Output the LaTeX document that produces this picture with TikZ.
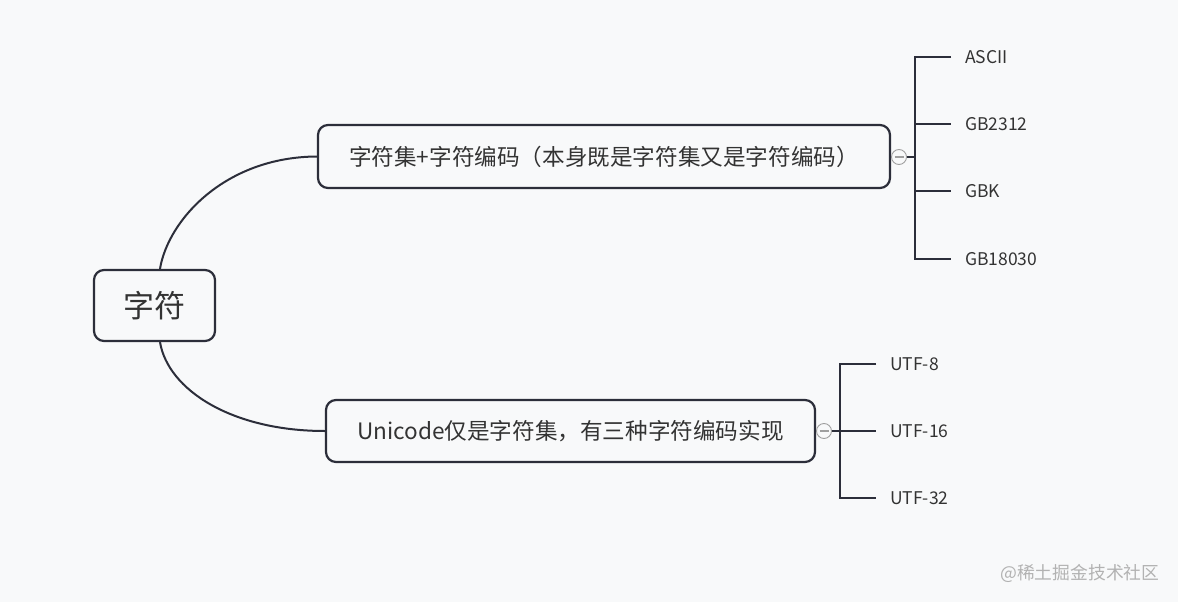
\documentclass[tikz,border=0pt]{standalone}
\usepackage{fontspec}
\setmainfont{Noto Sans CJK SC}
\definecolor{bg}{RGB}{248,249,250}
\definecolor{linec}{RGB}{44,46,58}
\definecolor{txt}{RGB}{51,51,51}
\definecolor{wm}{RGB}{178,178,178}
\begin{document}
\begin{tikzpicture}[x=1pt,y=-1pt,
  box/.style={draw=linec, line width=2.2pt, rounded corners=10pt, fill=bg, inner sep=0pt, text=txt},
  conn/.style={draw=linec, line width=2pt},
  brk/.style={draw=linec, line width=2.6pt},
  leaf/.style={anchor=west, text=txt, font=\fontsize{17.5pt}{20pt}\selectfont, inner sep=0pt},
  toggle/.style={circle, draw=gray!75, line width=0.9pt, fill=bg, minimum size=15pt, inner sep=0pt,
    path picture={\draw[gray!75, line width=1.2pt] ([xshift=-4.5pt]path picture bounding box.center) -- ([xshift=4.5pt]path picture bounding box.center);}}
]
\useasboundingbox[fill=bg] (0,0) rectangle (1178,602);

% boxes
\node[box, minimum width=121pt, minimum height=71pt, font=\fontsize{31pt}{36pt}\selectfont] (root) at (154.5,305.5) {字符};
\node[box, minimum width=572pt, minimum height=63pt, font=\fontsize{22.6pt}{27pt}\selectfont] (top) at (604,156.5) {字符集+字符编码（本身既是字符集又是字符编码）};
\node[box, minimum width=489pt, minimum height=62pt, font=\fontsize{22.6pt}{27pt}\selectfont] (bot) at (570.5,431) {Unicode仅是字符集，有三种字符编码实现};

% curved connectors
\draw[conn] ([xshift=5.5pt]root.north) .. controls (168,220) and (225,157) .. (top.west);
\draw[conn] ([xshift=5.5pt]root.south) .. controls (168,390) and (232,431) .. (bot.west);

% top bracket
\node[toggle] (t1) at (899,157) {};
\coordinate (tb) at (915,157);
\coordinate (ta1) at (915,57);
\coordinate (ta2) at (915,124);
\coordinate (ta3) at (915,191);
\coordinate (ta4) at (915,259);
\coordinate (te1) at (951,57);
\coordinate (te2) at (951,124);
\coordinate (te3) at (951,191);
\coordinate (te4) at (951,259);
\draw[brk] (t1.east) -- (tb);
\draw[brk] (te1) -- (ta1) -- (ta4) -- (te4);
\draw[brk] (ta2) -- (te2);
\draw[brk] (ta3) -- (te3);
\node[leaf] (l1) at (965,57) {ASCII};
\node[leaf] (l2) at (965,124) {GB2312};
\node[leaf] (l3) at (965,191) {GBK};
\node[leaf] (l4) at (965,259) {GB18030};

% bottom bracket
\node[toggle] (t2) at (824,431) {};
\coordinate (ub1) at (840,364);
\coordinate (ub2) at (840,431);
\coordinate (ub3) at (840,498);
\coordinate (ue1) at (876,364);
\coordinate (ue2) at (876,431);
\coordinate (ue3) at (876,498);
\draw[brk] (t2.east) -- (ub2);
\draw[brk] (ue1) -- (ub1) -- (ub3) -- (ue3);
\draw[brk] (ub2) -- (ue2);
\node[leaf] (u1) at (890,364) {UTF-8};
\node[leaf] (u2) at (890,431) {UTF-16};
\node[leaf] (u3) at (890,498) {UTF-32};

% watermark
\node[anchor=west, text=wm, font=\fontsize{17.8pt}{20pt}\selectfont, inner sep=0pt] (wmk) at (1000,573) {@稀土掘金技术社区};
\end{tikzpicture}
\end{document}
